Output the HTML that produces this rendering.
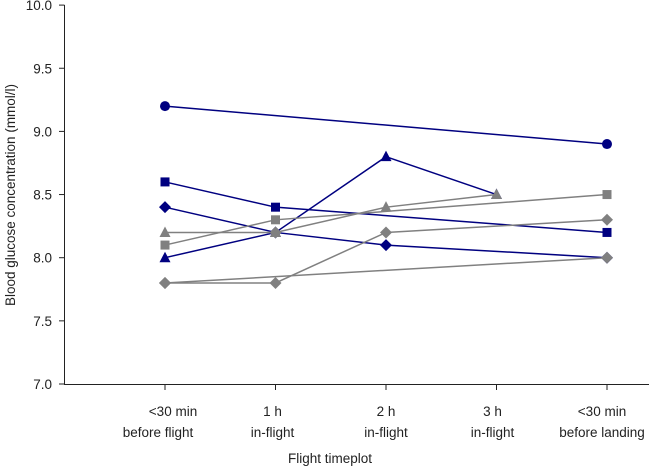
<!DOCTYPE html>
<html><head><meta charset="utf-8"><style>
body{margin:0;background:#fff;}
svg text{font-family:"Liberation Sans",sans-serif;font-size:13.5px;fill:#222;}
</style></head><body>
<svg id="chart" width="649" height="470">
<g id="axes"></g><g id="marks"></g>
<text x="330" y="463" text-anchor="middle">Flight timeplot</text>
<text transform="translate(15,195) rotate(-90)" text-anchor="middle">Blood glucose concentration (mmol/l)</text>
</svg>
<script>
const categoriesLine1 = ["<30 min","1 h","2 h","3 h","<30 min"];
const categoriesLine2 = ["before flight","in-flight","in-flight","in-flight","before landing"];
const yTicks = [7.0,7.5,8.0,8.5,9.0,9.5,10.0];
const navyCircle = [9.2,null,null,null,8.9];
const navySquare = [8.6,8.4,null,null,8.2];
const navyDiamond = [8.4,8.2,8.1,null,8.0];
const navyTriangle = [8.0,8.2,8.8,8.5,null];
const grayTriangle = [8.2,8.2,8.4,8.5,null];
const graySquare = [8.1,8.3,null,null,8.5];
const grayDiamondA = [7.8,7.8,8.2,null,8.3];
const grayDiamondB = [7.8,null,null,null,8.0];
const grayDiamondC = [null,8.2,null,null,null];
const series = [
 ["navy-circle",navyCircle,"#000080","circle"],
 ["navy-square",navySquare,"#000080","square"],
 ["navy-diamond",navyDiamond,"#000080","diamond"],
 ["navy-triangle",navyTriangle,"#000080","triangle"],
 ["gray-triangle",grayTriangle,"#808080","triangle"],
 ["gray-square",graySquare,"#808080","square"],
 ["gray-diamond-a",grayDiamondA,"#808080","diamond"],
 ["gray-diamond-b",grayDiamondB,"#808080","diamond"],
 ["gray-diamond-c",grayDiamondC,"#808080","diamond"]
];
const NS="http://www.w3.org/2000/svg";
const x=i=>165+110.5*i;
const y=v=>384-(v-7)*126.3;
const labelShift1=[8,-3,0,-4,-5];
const labelShift2=[-7,-3,0,-4,-5];
function mk(t,a,p){const e=document.createElementNS(NS,t);for(const k in a)e.setAttribute(k,a[k]);p.appendChild(e);return e;}
const axes=document.getElementById('axes'), marks=document.getElementById('marks');
const ax=mk('line',{x1:64.5,y1:5,x2:64.5,y2:384.5,stroke:'#222'},axes);


const xa=mk('line',{x1:64,y1:384.5,x2:649,y2:384.5,stroke:'#222'},axes);


yTicks.forEach(v=>{
 mk('line',{x1:59,x2:64.5,y1:y(v),y2:y(v),stroke:'#222'},axes);
 const t=mk('text',{x:52,y:y(v)+5,'text-anchor':'end'},axes);t.textContent=v.toFixed(1);
 
 
});
categoriesLine1.forEach((c,i)=>{
 mk('line',{x1:x(i),x2:x(i),y1:384.5,y2:390,stroke:'#222'},axes);
 const t=mk('text',{x:x(i)+labelShift1[i],y:416,'text-anchor':'middle'},axes);t.textContent=c;
 
 
 const t2=mk('text',{x:x(i)+labelShift2[i],y:437,'text-anchor':'middle'},axes);t2.textContent=categoriesLine2[i];
 
 
});
function marker(shape,cx,cy,col,g){
 let e;
 if(shape==='circle')e=mk('circle',{cx,cy,r:5,fill:col},g);
 else if(shape==='square')e=mk('rect',{x:cx-4.5,y:cy-4.5,width:9,height:9,fill:col},g);
 else if(shape==='diamond')e=mk('polygon',{points:`${cx},${cy-6} ${cx+6},${cy} ${cx},${cy+6} ${cx-6},${cy}`,fill:col},g);
 else e=mk('polygon',{points:`${cx},${cy-6} ${cx+5.5},${cy+4.5} ${cx-5.5},${cy+4.5}`,fill:col},g);
 
 
}
series.forEach(([name,vals,col,shape])=>{
 const g=mk('g',{},marks);
 
 
 const pts=[];vals.forEach((v,i)=>{if(v!==null)pts.push([x(i),y(v)]);});
 if(pts.length>1){const pl=mk('polyline',{points:pts.map(p=>p.join(',')).join(' '),fill:'none',stroke:col,'stroke-width':1.5},g);
  
  }
 pts.forEach(p=>marker(shape,p[0],p[1],col,g));
});
</script>
</body></html>
